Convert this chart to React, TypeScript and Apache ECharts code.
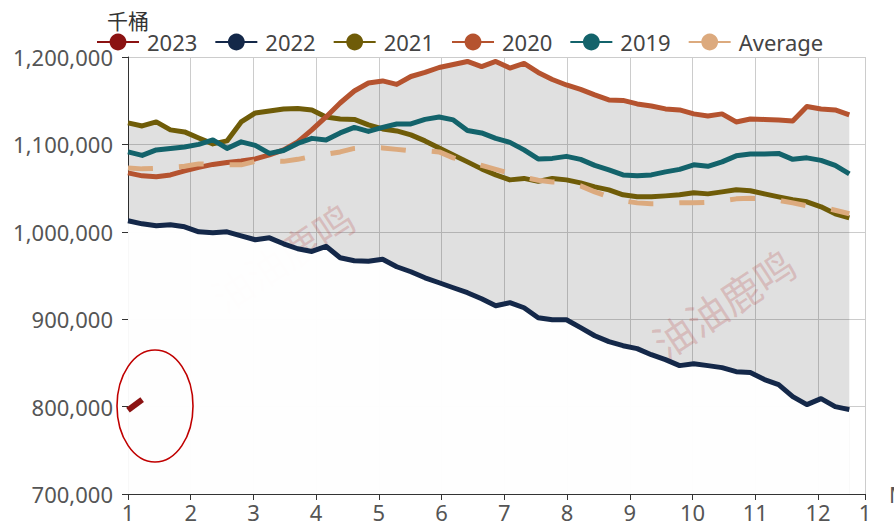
import React, { useEffect, useRef } from 'react';
import * as echarts from 'echarts';

// week number within the year (weekly data, plotted on a month scale)
const weekIndex = [
  1, 2, 3, 4, 5, 6, 7, 8, 9, 10, 11, 12, 13, 14, 15, 16, 17, 18, 19, 20, 21, 22, 23, 24, 25, 26,
  27, 28, 29, 30, 31, 32, 33, 34, 35, 36, 37, 38, 39, 40, 41, 42, 43, 44, 45, 46, 47, 48, 49, 50, 51, 52,
];

const s2023 = [796000, 808000];

const s2022 = [
  1012600, 1009100, 1006900, 1008000, 1005700, 1000000, 998900, 1000000, 995400, 990900,
  993100, 986300, 980600, 977500, 983400, 970300, 966900, 966300, 968600, 960000,
  954300, 947400, 941700, 936000, 930300, 923400, 915400, 918900, 913100, 901700,
  899400, 899400, 890300, 881100, 874300, 869700, 866300, 859400, 853700, 846900,
  849100, 846900, 844600, 840000, 838900, 830900, 825100, 811400, 802300, 809100,
  800000, 796600,
];

const s2021 = [
  1124600, 1121100, 1125700, 1116600, 1114300, 1107400, 1100600, 1104000, 1125700, 1136000,
  1138300, 1140600, 1141100, 1139400, 1131400, 1129100, 1128600, 1122300, 1117700, 1115400,
  1110900, 1104000, 1096000, 1088000, 1080000, 1072000, 1065100, 1059400, 1061100, 1057700,
  1061100, 1059400, 1056000, 1051400, 1048000, 1042300, 1040000, 1040000, 1041100, 1042300,
  1044600, 1043400, 1045700, 1048000, 1046900, 1043400, 1040000, 1036600, 1034300, 1028600,
  1020600, 1016000,
];

const s2020 = [
  1067400, 1064000, 1062900, 1065100, 1069700, 1073700, 1077100, 1079400, 1081100, 1083400,
  1088000, 1093700, 1102900, 1116600, 1131400, 1147400, 1161100, 1170300, 1172600, 1168600,
  1177700, 1182300, 1188000, 1191400, 1194900, 1189100, 1194900, 1187400, 1192600, 1182300,
  1174300, 1168000, 1162900, 1156600, 1150900, 1150300, 1146300, 1144000, 1140600, 1139400,
  1134900, 1132600, 1134900, 1125700, 1129100, 1128600, 1128000, 1126900, 1143400, 1140600,
  1139400, 1133700,
];

const s2019 = [
  1091400, 1087400, 1093700, 1095400, 1097100, 1100000, 1105100, 1095400, 1102900, 1098900,
  1089700, 1093100, 1101100, 1106900, 1105100, 1113100, 1119400, 1114900, 1119400, 1123400,
  1123400, 1128600, 1131400, 1128000, 1116000, 1113100, 1106900, 1102300, 1093700, 1083400,
  1084000, 1086300, 1082900, 1076000, 1070900, 1065100, 1064000, 1065100, 1068600, 1071400,
  1076600, 1074900, 1080000, 1086900, 1089100, 1089100, 1089700, 1082900, 1084600, 1081700,
  1076000, 1066300,
];

const sAverage = [
  1073100, 1072000, 1072600, 1073700, 1074900, 1077700, 1077700, 1076600, 1076600, 1080600,
  1081100, 1080600, 1082900, 1086300, 1088600, 1091400, 1095400, 1096600, 1096000, 1094300,
  1092600, 1092600, 1091400, 1084600, 1080600, 1076000, 1071400, 1066900, 1062300, 1058900,
  1057100, 1056000, 1052600, 1045700, 1040000, 1035400, 1033100, 1032000, 1032000, 1033100,
  1033100, 1033700, 1035400, 1037700, 1038300, 1037700, 1036000, 1033100, 1029700, 1028600,
  1024600, 1020600,
];

const legendNames = ['2023', '2022', '2021', '2020', '2019', 'Average'];
const seriesColors = ['#8b1212', '#142849', '#6f5c08', '#b5532f', '#13636b', '#dcaa7e'];

const FONT = '"Noto Sans", "Noto Sans CJK SC", sans-serif';

// weekly points are spread over month 1 .. 12.5 of the month axis
const weekToMonth = (w: number) => 1 + ((w - 1) * 11.5) / 51;
const toPairs = (vals: number[]) => vals.map((v, i) => [weekToMonth(weekIndex[i]), v]);

export default function App() {
  const ref = useRef<HTMLDivElement>(null);

  useEffect(() => {
    if (!ref.current) return;
    const chart = echarts.init(ref.current, undefined, { renderer: 'svg' });

    const years = [s2022, s2021, s2020, s2019];
    const bandMax = weekIndex.map((_, i) => Math.max(...years.map((y) => y[i])));
    const bandMin = weekIndex.map((_, i) => Math.min(...years.map((y) => y[i])));
    const allSeries = [s2023, s2022, s2021, s2020, s2019, sAverage];

    const lineSeries = allSeries.map((vals, k) => ({
      name: legendNames[k],
      type: 'line',
      data: toPairs(vals),
      symbol: 'none',
      showSymbol: false,
      color: seriesColors[k],
      lineStyle: {
        width: k === 0 ? 6 : 5,
        color: seriesColors[k],
        type: legendNames[k] === 'Average' ? [25, 26] : 'solid',
        join: 'round',
      },
      z: 3,
    }));

    const watermark = (cx: number, cy: number) => ({
      type: 'text',
      x: cx,
      y: cy,
      rotation: 0.58,
      z: 1,
      silent: true,
      style: {
        text: '油油鹿鸣',
        fontSize: 40,
        fontFamily: FONT,
        fill: 'rgba(205, 70, 70, 0.22)',
        align: 'center',
        verticalAlign: 'middle',
      },
    });

    chart.setOption({
      animation: false,
      backgroundColor: '#ffffff',
      textStyle: { fontFamily: FONT },
      grid: {
        left: 128,
        right: 29,
        top: 57,
        bottom: 32,
        containLabel: false,
        outerBoundsMode: 'none',
      },
      legend: {
        data: legendNames,
        left: 91,
        top: 26,
        itemWidth: 42,
        itemHeight: 21,
        itemGap: 17,
        lineStyle: { type: 'solid' },
        textStyle: { fontSize: 22, color: '#444', fontFamily: FONT, padding: [0, 0, 0, 3] },
      },
      xAxis: {
        type: 'value',
        min: 1,
        max: 12.75,
        interval: 1,
        name: 'Month',
        nameLocation: 'end',
        nameGap: 24,
        nameTextStyle: { fontSize: 22, color: '#555', fontFamily: FONT },
        axisLine: { show: true, lineStyle: { color: '#333', width: 1 } },
        axisTick: { show: true, length: 6, lineStyle: { color: '#333' } },
        axisLabel: {
          fontSize: 22,
          lineHeight: 20,
          color: '#555',
          margin: 8,
          fontFamily: FONT,
          showMaxLabel: true,
          showMinLabel: true,
          formatter: (v: number) => String(((Math.ceil(v - 1e-9) - 1) % 12) + 1),
        },
        splitLine: { show: true, lineStyle: { color: '#cccccc', width: 1 } },
      },
      yAxis: {
        type: 'value',
        min: 700000,
        max: 1200000,
        interval: 100000,
        name: '千桶',
        nameLocation: 'end',
        nameGap: 26,
        nameTextStyle: { fontSize: 21, color: '#333', fontFamily: FONT },
        axisLine: { show: true, lineStyle: { color: '#333', width: 1 } },
        axisTick: { show: true, length: 6, lineStyle: { color: '#333' } },
        axisLabel: {
          fontSize: 22,
          color: '#555',
          margin: 15,
          fontFamily: FONT,
          formatter: (v: number) => v.toLocaleString('en-US'),
        },
        splitLine: { show: true, lineStyle: { color: '#cccccc', width: 1 } },
      },
      graphic: [
        watermark(283, 258),
        watermark(724, 304),
        {
          type: 'ellipse',
          z: 10,
          silent: true,
          shape: { cx: 155, cy: 406, rx: 38, ry: 56 },
          style: { fill: 'none', stroke: '#c00000', lineWidth: 1.6 },
        },
      ],
      series: [
        {
          name: 'bandMax',
          type: 'line',
          data: toPairs(bandMax),
          symbol: 'none',
          silent: true,
          lineStyle: { width: 0, opacity: 0 },
          areaStyle: { color: 'rgba(0,0,0,0.12)', origin: 'start', opacity: 1 },
          z: 2,
        },
        {
          name: 'bandMin',
          type: 'line',
          data: toPairs(bandMin),
          symbol: 'none',
          silent: true,
          lineStyle: { width: 0, opacity: 0 },
          areaStyle: { color: '#ffffff', origin: 'start', opacity: 0.97 },
          z: 2,
        },
        ...lineSeries,
      ],
    });

    return () => chart.dispose();
  }, []);

  return (
    <div
      ref={ref}
      style={{ position: 'fixed', left: 0, top: 0, width: 894, height: 526, background: '#fff' }}
    />
  );
}
